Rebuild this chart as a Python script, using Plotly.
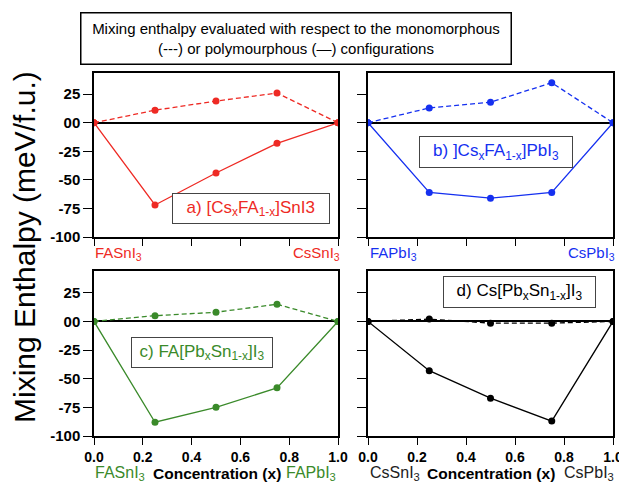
import plotly.graph_objects as go

x = [0.0, 0.25, 0.5, 0.75, 1.0]

mono_a = [0, 11, 19, 26, 0]
poly_a = [0, -72, -44, -18, 0]
mono_b = [0, 13, 18, 35, 0]
poly_b = [0, -61, -66, -61, 0]
mono_c = [0, 5, 8, 15, 0]
poly_c = [0, -88, -75, -58, 0]
mono_d = [0, 2, -1.5, -1.5, 0]
poly_d = [0, -43, -67, -87, 0]

colors = ["#ee2a24", "#1530f0", "#3a8a2a", "#000000"]
panel_labels = [
    "a) [Cs<sub>x</sub>FA<sub>1-x</sub>]SnI3",
    "b) ]Cs<sub>x</sub>FA<sub>1-x</sub>]PbI<sub>3</sub>",
    "c) FA[Pb<sub>x</sub>Sn<sub>1-x</sub>]I<sub>3</sub>",
    "d) Cs[Pb<sub>x</sub>Sn<sub>1-x</sub>]I<sub>3</sub>",
]
left_end = ["FASnI<sub>3</sub>", "FAPbI<sub>3</sub>", "FASnI<sub>3</sub>", "CsSnI<sub>3</sub>"]
right_end = ["CsSnI<sub>3</sub>", "CsPbI<sub>3</sub>", "FAPbI<sub>3</sub>", "CsPbI<sub>3</sub>"]

y_tickvals = [25, 0, -25, -50, -75, -100]
y_ticktext = ["25", "00", "-25", "-50", "-75", "-100"]
x_tickvals = [0, 0.2, 0.4, 0.6, 0.8, 1.0]
x_ticktext = ["0.0", "0.2", "0.4", "0.6", "0.8", "1.0"]

# page has an 8px body margin; lay out in window pixel coordinates
OFF = 8
W, H = 627 - OFF, 482 - OFF
def px(v): return (v - OFF) / W
def py(v): return 1 - (v - OFF) / H

xdoms = [[px(94), px(338)], [px(368), px(613)]]
ydoms = [[py(237), py(72.5)], [py(436), py(271)]]

FONT = "Liberation Sans, Arial, sans-serif"
fig = go.Figure()

monos = [mono_a, mono_b, mono_c, mono_d]
polys = [poly_a, poly_b, poly_c, poly_d]

layout = {}
for i in range(4):
    row, col = divmod(i, 2)
    n = "" if i == 0 else str(i + 1)
    xa, ya = "x" + n, "y" + n
    c = colors[i]
    fig.add_trace(go.Scatter(x=x, y=monos[i], mode="lines+markers", xaxis=xa, yaxis=ya,
                             line=dict(color=c, width=1.3, dash="5px,3px"),
                             marker=dict(color=c, size=7), showlegend=False))
    fig.add_trace(go.Scatter(x=x, y=polys[i], mode="lines+markers", xaxis=xa, yaxis=ya,
                             line=dict(color=c, width=1.3),
                             marker=dict(color=c, size=7), showlegend=False))
    layout["xaxis" + n] = dict(domain=xdoms[col], anchor=ya, range=[0, 1], automargin=False,
                               tickvals=x_tickvals, ticktext=x_ticktext,
                               showticklabels=(row == 1), ticks="outside", ticklen=7,
                               tickcolor="black", tickwidth=1.2,
                               tickfont=dict(family=FONT, size=14, color="black", weight="bold"),
                               showline=True, linecolor="black", linewidth=1.5, mirror=True,
                               showgrid=False, zeroline=False)
    layout["yaxis" + n] = dict(domain=ydoms[row], anchor=xa, range=[-100, 44], automargin=False,
                               tickvals=y_tickvals, ticktext=y_ticktext,
                               showticklabels=(col == 0), ticks="outside", ticklen=9,
                               tickcolor="black", tickwidth=1.2,
                               tickfont=dict(family=FONT, size=15, color="black", weight="bold"),
                               showline=True, linecolor="black", linewidth=1.5, mirror=True,
                               showgrid=False, zeroline=True, zerolinecolor="black",
                               zerolinewidth=1.5)

fig.update_layout(**layout)

annotations = []
# Panel label boxes: (left, top, right, bottom) in pixels
boxes = [(172.5, 193, 330, 224), (419, 136, 573, 168), (131, 337, 273, 368), (443, 276, 596, 308)]
for i in range(4):
    l, t, r, b = boxes[i]
    annotations.append(dict(x=px((l + r) / 2), y=py((t + b) / 2), xref="paper", yref="paper",
                            text=panel_labels[i], showarrow=False,
                            font=dict(family=FONT, size=17, color=colors[i] if i < 3 else "black"),
                            bordercolor="#444444", borderwidth=1, borderpad=3,
                            width=r - l - 8, height=b - t - 8,
                            bgcolor="white", xanchor="center", yanchor="middle"))

# End-member labels
row_y = [253, 253, 473, 473]
sizes = [15, 15, 16, 16]
left_x = [93, 368, 93, 368]
right_x = [342, 617, 338, 616]
for i in range(4):
    c = colors[i] if i < 3 else "#222222"
    annotations.append(dict(x=px(left_x[i]), y=py(row_y[i]), xref="paper", yref="paper",
                            text=left_end[i], showarrow=False, xanchor="left", yanchor="middle",
                            font=dict(family=FONT, size=sizes[i], color=c)))
    annotations.append(dict(x=px(right_x[i]), y=py(row_y[i]), xref="paper", yref="paper",
                            text=right_end[i], showarrow=False, xanchor="right", yanchor="middle",
                            font=dict(family=FONT, size=sizes[i], color=c)))

for cx in [217, 491]:
    annotations.append(dict(x=px(cx), y=py(473), xref="paper", yref="paper",
                            text="<b>Concentration (x)</b>", showarrow=False,
                            xanchor="center", yanchor="middle",
                            font=dict(family=FONT, size=15.5, color="black")))

# Y-axis title
annotations.append(dict(x=px(25), y=py(247), xref="paper", yref="paper",
                        text="Mixing Enthalpy (meV/f.u.)", showarrow=False, textangle=-90,
                        xanchor="center", yanchor="middle",
                        font=dict(family=FONT, size=30, color="black")))

# Title box
annotations.append(dict(x=px(296), y=py(38.5), xref="paper", yref="paper",
                        text="Mixing enthalpy evaluated with respect to the monomorphous<br>(---) or polymourphous (\u2014) configurations",
                        showarrow=False, xanchor="center", yanchor="middle",
                        font=dict(family=FONT, size=15, color="black"),
                        bordercolor="black", borderwidth=1.5, borderpad=4,
                        width=421, height=42,
                        bgcolor="white"))

fig.update_layout(annotations=annotations, width=W, height=H,
                  margin=dict(l=0, r=0, t=0, b=0),
                  paper_bgcolor="white", plot_bgcolor="white")

fig.write_html("out.html")
